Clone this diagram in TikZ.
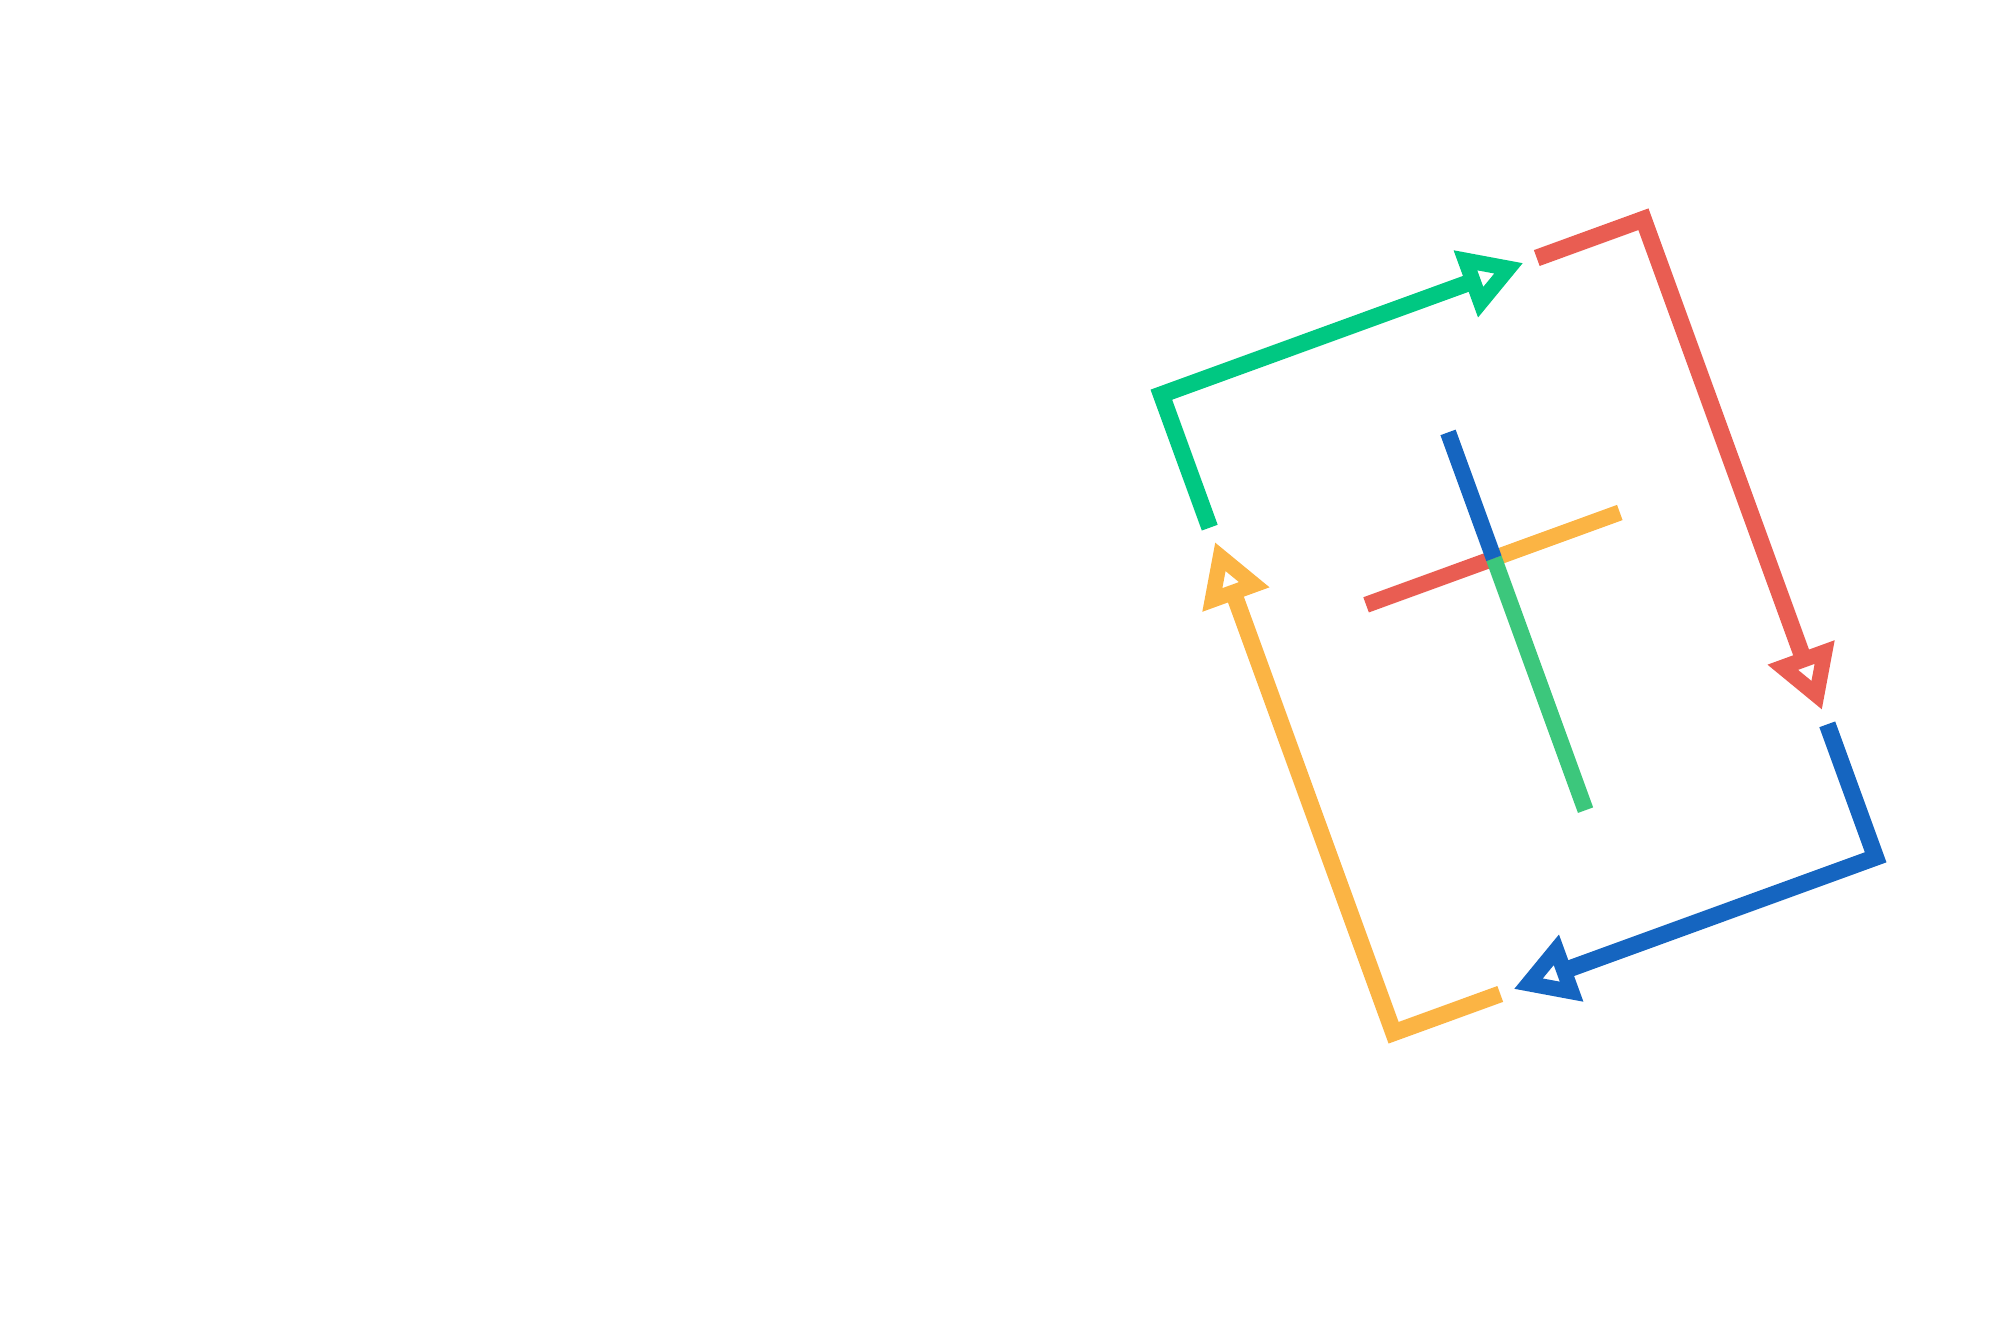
\documentclass[tikz,border=0pt]{standalone}
\usepackage{tikz}
\usetikzlibrary{arrows.meta}
\definecolor{cgreen}{HTML}{00C882}
\definecolor{cred}{HTML}{E95D52}
\definecolor{cblue}{HTML}{1565C0}
\definecolor{cyellow}{HTML}{FBB444}
\tikzset{
  turn/.style={line width=4.8pt,miter limit=4,-{Triangle[open,length=17.5pt,width=19pt]}},
  arm/.style={line width=4.6pt}
}

\begin{document}
\begin{tikzpicture}
\useasboundingbox (0,0) rectangle (20,13.42);
\begin{scope}[shift={(15.185,7.16)},rotate=20]
% corners of the frame
\coordinate (tl) at (-2.565,3.395);
\coordinate (tr) at (2.565,3.395);
\coordinate (br) at (2.565,-3.395);
\coordinate (bl) at (-2.565,-3.395);
% start and tip of each turn
\coordinate (gs) at (-2.565,1.98);
\coordinate (gt) at (1.29,3.395);
\coordinate (rs) at (1.43,3.395);
\coordinate (rt) at (2.565,-1.83);
\coordinate (bs) at (2.565,-1.98);
\coordinate (bt) at (-1.29,-3.395);
\coordinate (ys) at (-1.43,-3.395);
\coordinate (yt) at (-2.565,1.83);
\draw[turn,cgreen] (gs) -- (tl) -- (gt);
\draw[turn,cred] (rs) -- (tr) -- (rt);
\draw[turn,cblue] (bs) -- (br) -- (bt);
\draw[turn,cyellow] (ys) -- (bl) -- (yt);
% the cross
\coordinate (o) at (0,0.72);
\coordinate (up) at (0,2.06);
\coordinate (rgt) at (1.34,0.72);
\coordinate (lft) at (-1.36,0.72);
\coordinate (dn) at (0,-1.96);
\draw[arm,cred] (o) -- (lft);
\draw[arm,cyellow] (o) -- (rgt);
\draw[arm,cgreen!80!cyellow!95!white] (o) -- (dn);
\draw[arm,cblue] (o) -- (up);
\end{scope}
\end{tikzpicture}
\end{document}
